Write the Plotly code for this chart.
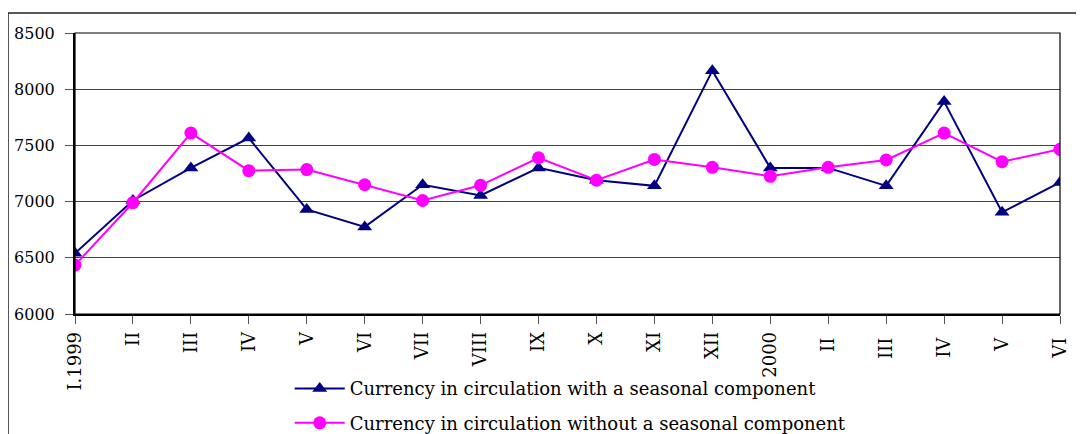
import plotly.graph_objects as go

months = ["I.1999", "II", "III", "IV", "V", "VI", "VII", "VIII", "IX", "X",
          "XI", "XII", "2000", "II ", "III ", "IV ", "V ", "VI "]

# currency in circulation (PLN million)
with_seasonal = [6540, 7010, 7300, 7565, 6930, 6775, 7150, 7055, 7300, 7190,
                 7140, 8165, 7300, 7300, 7140, 7890, 6905, 7170]
without_seasonal = [6435, 6990, 7610, 7275, 7285, 7150, 7010, 7145, 7390, 7190,
                    7375, 7305, 7225, 7305, 7370, 7610, 7355, 7465]

x = list(range(len(months)))

fig = go.Figure()
fig.add_trace(go.Scatter(
    x=x, y=with_seasonal, mode="lines+markers", legendgroup="a",
    name="Currency in circulation with a seasonal component",
    line=dict(color="#000080", width=2),
    marker=dict(symbol="triangle-up", size=13, color="#000080")))
fig.add_trace(go.Scatter(
    x=x, y=without_seasonal, mode="lines+markers", legendgroup="b",
    name="Currency in circulation without a seasonal component",
    line=dict(color="#FF00FF", width=2),
    marker=dict(symbol="circle", size=13, color="#FF00FF")))

serif = "DejaVu Serif, serif"

fig.update_xaxes(
    tickmode="array", tickvals=x, ticktext=months, tickangle=-90,
    range=[0, len(months) - 1], showgrid=False, zeroline=False,
    showline=True, linecolor="black", linewidth=1.5, mirror=False,
    ticks="outside", ticklen=8, tickcolor="#555",
    ticklabelstandoff=1, automargin=False,
    tickfont=dict(family=serif, size=18, color="black"))
fig.update_yaxes(
    range=[6000, 8500], tickvals=[6000, 6500, 7000, 7500, 8000, 8500],
    showgrid=True, gridcolor="#444", gridwidth=1.2, zeroline=False,
    showline=True, linecolor="black", linewidth=2,
    ticks="outside", ticklen=8, tickcolor="#555",
    ticklabelstandoff=7, automargin=False,
    tickfont=dict(family=serif, size=16, color="black"))

# the page body adds an 8px offset, so the figure is 8px smaller
fig.update_layout(
    width=1076, height=426,
    margin=dict(l=67, r=24, t=25, b=120, autoexpand=False),
    paper_bgcolor="white", plot_bgcolor="white",
    showlegend=True,
    legend=dict(x=0.218, y=-0.2, xanchor="left", yanchor="top",
                bgcolor="rgba(0,0,0,0)", tracegroupgap=8,
                itemwidth=50,
                font=dict(family=serif, size=18, color="black")),
    shapes=[
        # plot area border
        dict(type="rect", xref="paper", yref="paper", x0=0, y0=0, x1=1, y1=1,
             line=dict(color="black", width=1.2)),
        # outer chart frame (top and left edges)
        dict(type="line", xref="paper", yref="paper",
             x0=-0.068, y0=1.071, x1=1.03, y1=1.071,
             line=dict(color="#222", width=1.5)),
        dict(type="line", xref="paper", yref="paper",
             x0=-0.068, y0=1.071, x1=-0.068, y1=-0.45,
             line=dict(color="#222", width=1.5)),
    ],
)

fig.write_html("out.html")
